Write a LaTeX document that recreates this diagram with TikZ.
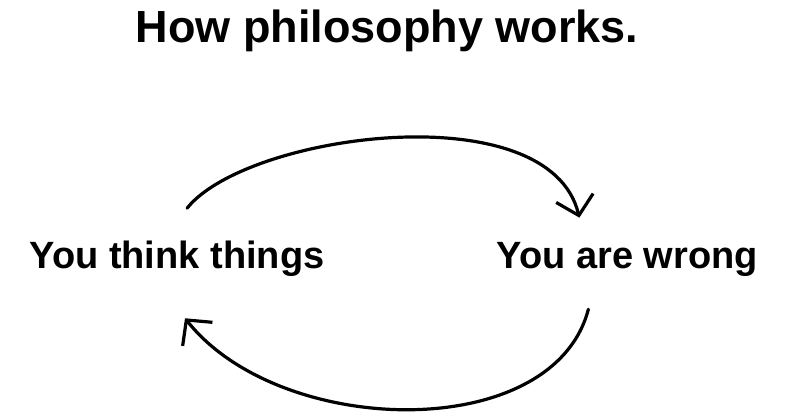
\documentclass[tikz,border=0pt]{standalone}
\usepackage{fontspec}
\setmainfont{Liberation Sans}
\usepackage{tikz}
\usetikzlibrary{arrows.meta,positioning}

\begin{document}
\begin{tikzpicture}[
    x=1pt, y=-1pt,
    font=\bfseries,
    node distance=172pt,
    heading/.style={
      font=\fontsize{45}{50}\selectfont\bfseries,
      inner sep=0pt
    },
    phrase/.style={
      font=\fontsize{38}{42}\selectfont\bfseries,
      inner sep=0pt
    },
    flow/.style={-{Straight Barb[length=18pt,width=38pt]}, line width=3.2pt, line cap=round, line join=round}
  ]
    \useasboundingbox[fill=white] (0,0) rectangle (800,420);
    \node[heading, anchor=base] (title) at (387,43) {How philosophy works.};
    \node[phrase, anchor=base] (think) at (177,268) {You think things};
    \node[phrase, base right=of think] (wrong) {You are wrong};
    \draw[flow] ([shift={(10,-32)}]think.north)
      .. controls +(60,-75) and +(-30,-125) .. ([shift={(-48,-24)}]wrong.north);
    \draw[flow] ([shift={(-39,33)}]wrong.south)
      .. controls +(-35,135) and +(95,120) .. ([shift={(8,42)}]think.south);
  \end{tikzpicture}
\end{document}
